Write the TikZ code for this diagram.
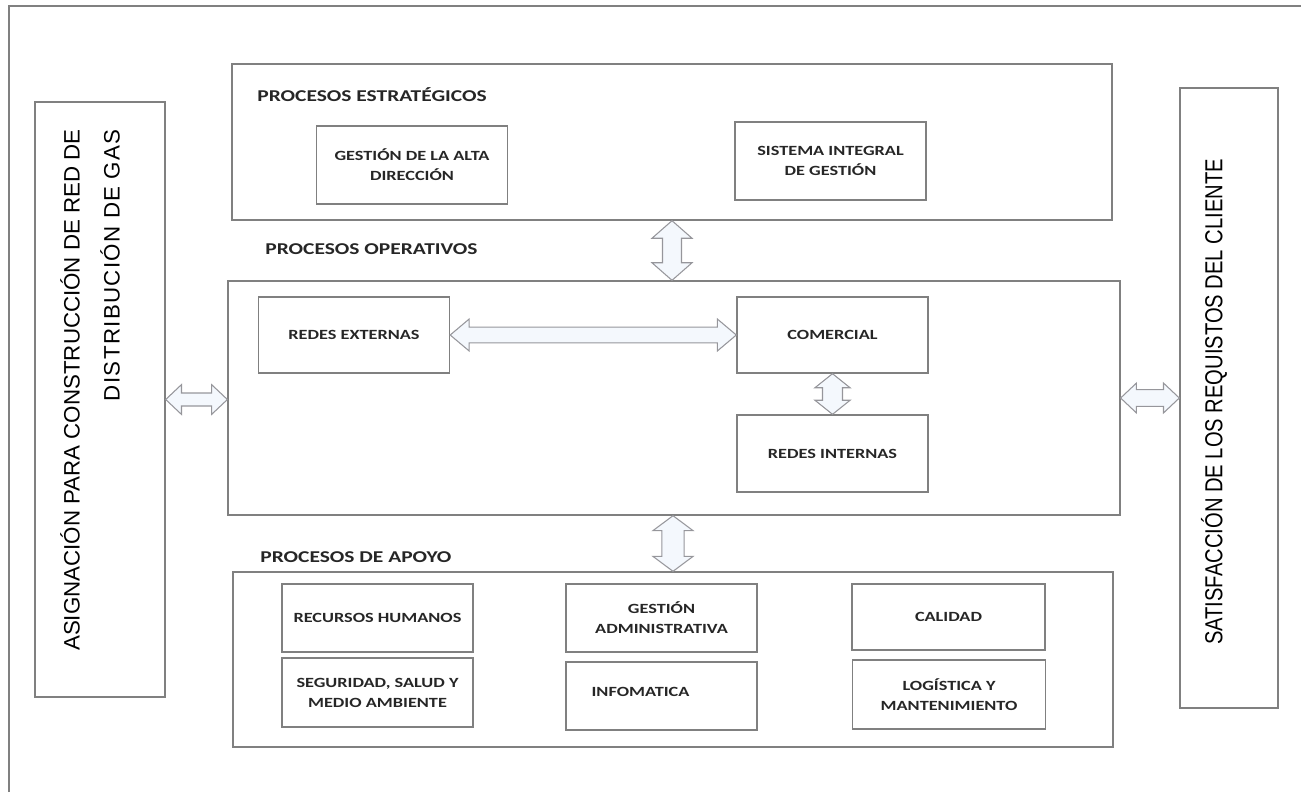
\documentclass[tikz,border=0pt]{standalone}
\usepackage{fontspec}
\setmainfont{Carlito}
\newfontfamily\lblfont[FakeStretch=1.3]{Carlito}
\newfontfamily\sidefont{Liberation Sans}
\newfontfamily\narrowfont[FakeStretch=0.82]{Liberation Sans}
\usetikzlibrary{calc}

\definecolor{linegray}{RGB}{128,128,128}
\definecolor{arrowgray}{RGB}{150,150,155}
\definecolor{arrowfill}{RGB}{244,248,253}

\tikzstyle{frameNode} = [rectangle, draw=linegray, line width=0.8pt]
\tikzstyle{capNode} = [rectangle, draw=linegray, line width=0.8pt, minimum width=3.82cm, align=center, text=black!85, font=\lblfont\bfseries\fontsize{8}{11.4}\selectfont]
\tikzstyle{titleNode} = [anchor=west, inner sep=0pt, text=black!85, font=\lblfont\bfseries\fontsize{9.4}{11}\selectfont]
% flecha doble hueca: #1 medio cuerpo, #2 media punta, #3 largo punta
\tikzset{dblarrow/.style n args={3}{draw=arrowgray, line width=0.6pt, fill=arrowfill, line join=miter,
    to path={let \p1=(\tikztostart), \p2=(\tikztotarget), \p3=($(\p1)!#3!(\p2)$), \p4=($(\p2)!#3!(\p1)$) in
      (\p1) -- ($(\p3)!#2!90:(\p2)$) -- ($(\p3)!#1!90:(\p2)$) -- ($(\p4)!#1!-90:(\p1)$) -- ($(\p4)!#2!-90:(\p1)$)
      -- (\p2) -- ($(\p4)!#2!90:(\p1)$) -- ($(\p4)!#1!90:(\p1)$) -- ($(\p3)!#1!-90:(\p2)$) -- ($(\p3)!#2!-90:(\p2)$) -- cycle}}}

\begin{document}
\begin{tikzpicture}[x=0.02cm, y=-0.02cm]
    \useasboundingbox (0,0) rectangle (1301,792);
    \draw [linegray, line width=1.2pt] (9,792) -- (9,6) -- (1301,6);

    % entrada y salida
    \node (asignacion)[frameNode, minimum width=2.6cm, minimum height=11.9cm] at (100,399.5) {};
    \node (asigText)[rotate=90, align=right, inner sep=0pt, font=\sidefont\fontsize{12.7}{22.8}\selectfont] at (90,390) {ASIGNACIÓN PARA CONSTRUCCIÓN DE RED DE\\{\addfontfeature{LetterSpace=6}DISTRIBUCIÓN DE GAS}};
    \node (cliente)[frameNode, minimum width=1.96cm, minimum height=12.4cm] at (1229,398) {};
    \node (clienteText)[rotate=90, inner sep=0pt, font=\narrowfont\fontsize{14}{16}\selectfont] at (1214,402) {SATISFACCIÓN DE LOS REQUISTOS DEL CLIENTE};

    % procesos estrategicos
    \node (estrategicos)[frameNode, minimum width=17.6cm, minimum height=3.12cm] at (672,142) {};
    \node (tEstrategicos)[titleNode] at (257,95) {PROCESOS ESTRATÉGICOS};
    \node (altaDir)[capNode, minimum height=1.56cm] at (412,165) {GESTIÓN DE LA ALTA\\DIRECCIÓN};
    \node (sig)[capNode, minimum height=1.56cm] at (830.5,161) {SISTEMA INTEGRAL\\DE GESTIÓN};

    % procesos operativos
    \node (operativos)[frameNode, minimum width=17.84cm, minimum height=4.68cm] at (674,398) {};
    \node (tOperativos)[titleNode] at (265,249) {PROCESOS OPERATIVOS};
    \node (redesExt)[capNode, minimum height=1.52cm] at (354,335) {REDES EXTERNAS};
    \node (comercial)[capNode, minimum height=1.52cm] at (832.5,335) {COMERCIAL};
    \node (redesInt)[capNode, minimum height=1.54cm] at (832.5,453.5) {REDES INTERNAS};

    % procesos de apoyo
    \node (apoyo)[frameNode, minimum width=17.6cm, minimum height=3.5cm] at (673,659.5) {};
    \node (tApoyo)[titleNode] at (260,557) {PROCESOS DE APOYO};
    \node (rrhh)[capNode, minimum height=1.36cm] at (377.5,618) {RECURSOS HUMANOS};
    \node (ssma)[capNode, minimum height=1.38cm] at (377.5,692.5) {SEGURIDAD, SALUD Y\\MEDIO AMBIENTE};
    \node (gestAdm)[capNode, minimum height=1.36cm] at (661.5,618) {GESTIÓN\\ADMINISTRATIVA};
    \node (infomatica)[capNode, minimum height=1.36cm] at (661.5,696) {\raisebox{0.18cm}{INFOMATICA\rule{0.84cm}{0pt}}};
    \node (calidad)[capNode, minimum width=3.86cm, minimum height=1.32cm] at (948.5,617) {CALIDAD};
    \node (logistica)[capNode, minimum width=3.86cm, minimum height=1.38cm] at (949,694.5) {LOGÍSTICA Y\\MANTENIMIENTO};

    \draw [dblarrow={5.4pt}{11.4pt}{10pt}] (estrategicos.south) to (estrategicos.south |- operativos.north);
    \draw [dblarrow={6.3pt}{11.4pt}{8.5pt}] (operativos.south -| apoyo.north) to (apoyo.north);
    \draw [dblarrow={4.5pt}{9.1pt}{10.8pt}] (redesExt.east) to (comercial.west);
    \draw [dblarrow={5.7pt}{10pt}{8pt}] (comercial.south) to (redesInt.north);
    \draw [dblarrow={3.7pt}{8.5pt}{9pt}] (asignacion.east) to (asignacion.east -| operativos.west);
    \draw [dblarrow={4.8pt}{8.5pt}{9pt}] (operativos.east) to (operativos.east -| cliente.west);
\end{tikzpicture}
\end{document}
